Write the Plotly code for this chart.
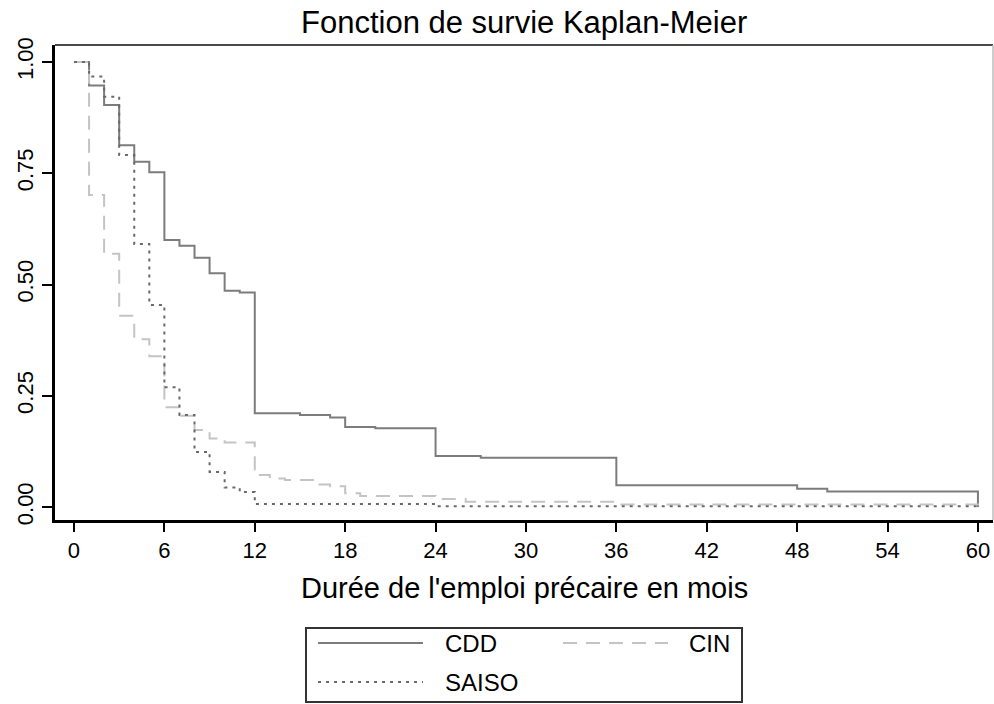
import plotly.graph_objects as go

# ---- data ----
cdd_t = [0, 1, 2, 3, 4, 5, 6, 7, 8, 9, 10, 11, 12, 15, 17, 18, 20, 24, 27, 36, 48, 50, 60]
cdd_s = [1.0, 0.947, 0.903, 0.813, 0.776, 0.752, 0.600, 0.587, 0.560, 0.525, 0.486, 0.482,
         0.211, 0.207, 0.201, 0.180, 0.177, 0.115, 0.111, 0.049, 0.041, 0.035, 0.0]

cin_t = [0, 1, 2, 3, 4, 5, 6, 7, 8, 9, 10, 12, 13, 14, 16, 17, 18, 19, 24, 26, 36, 60]
cin_s = [1.0, 0.701, 0.569, 0.430, 0.377, 0.339, 0.224, 0.205, 0.173, 0.154, 0.145, 0.072,
         0.064, 0.061, 0.051, 0.047, 0.031, 0.025, 0.018, 0.012, 0.006, 0.004]

saiso_t = [0, 1, 2, 3, 4, 5, 6, 7, 8, 9, 10, 11, 12, 24, 60]
saiso_s = [1.0, 0.967, 0.922, 0.791, 0.591, 0.454, 0.269, 0.207, 0.124, 0.079, 0.044,
           0.034, 0.007, 0.002, 0.002]

x_ticks = [0, 6, 12, 18, 24, 30, 36, 42, 48, 54, 60]
y_ticks = [0.0, 0.25, 0.5, 0.75, 1.0]
y_tick_labels = ["0.00", "0.25", "0.50", "0.75", "1.00"]

series_names = ["CDD", "CIN", "SAISO"]
title_text = "Fonction de survie Kaplan-Meier"
x_title = "Durée de l'emploi précaire en mois"

# ---- styles / layout ----
W, H = 994, 704
L, R, T, B = 55, 1, 45, 184
PW, PH = W - L - R, H - T - B
FONT = "Liberation Sans, Arial, sans-serif"

styles = {
    "CDD": dict(color="#7c7c7c", width=2, dash="solid"),
    "CIN": dict(color="#c4c4c4", width=2, dash="14px,9px"),
    "SAISO": dict(color="#6a6a6a", width=2, dash="3px,5px"),
}


def px_x(px):
    return (px - L) / PW


def px_y(py):
    return (H - B - py) / PH


fig = go.Figure()
for name, t, s in [("CDD", cdd_t, cdd_s), ("CIN", cin_t, cin_s), ("SAISO", saiso_t, saiso_s)]:
    fig.add_trace(go.Scatter(x=t, y=s, mode="lines", line_shape="hv", name=name,
                             line=styles[name], showlegend=False, cliponaxis=False))

shapes = [
    # top and right frame
    dict(type="line", xref="paper", yref="paper", x0=0, x1=1, y0=1, y1=1,
         line=dict(color="#4a4a4a", width=2)),
    dict(type="line", xref="paper", yref="paper", x0=1, x1=1, y0=0, y1=1,
         line=dict(color="#bdbdbd", width=1.5)),
    # legend box
    dict(type="rect", xref="paper", yref="paper", x0=px_x(306), x1=px_x(742),
         y0=px_y(702), y1=px_y(628), line=dict(color="#333333", width=2),
         fillcolor="white"),
]
annotations = [
    dict(text=title_text, xref="paper", yref="paper", x=0.5, y=px_y(22),
         xanchor="center", yanchor="middle", showarrow=False,
         font=dict(family=FONT, size=31, color="black")),
    dict(text=x_title, xref="paper", yref="paper", x=0.5, y=px_y(588),
         xanchor="center", yanchor="middle", showarrow=False,
         font=dict(family=FONT, size=29, color="black")),
]

legend_items = [("CDD", 318, 423, 643, 443), ("CIN", 563, 668, 643, 687), ("SAISO", 318, 423, 682, 443)]
for name, lx0, lx1, ly, tx in legend_items:
    st = styles[name]
    shapes.append(dict(type="line", xref="paper", yref="paper", x0=px_x(lx0), x1=px_x(lx1),
                       y0=px_y(ly), y1=px_y(ly),
                       line=dict(color=st["color"], width=st["width"], dash=st["dash"])))
    annotations.append(dict(text=name, xref="paper", yref="paper", x=px_x(tx), y=px_y(ly),
                            xanchor="left", yanchor="middle", showarrow=False,
                            font=dict(family=FONT, size=24, color="black")))

fig.update_layout(
    width=W, height=H, autosize=False,
    margin=dict(l=L, r=R, t=T, b=B, autoexpand=False),
    paper_bgcolor="white", plot_bgcolor="white",
    shapes=shapes, annotations=annotations,
    showlegend=False,
)
fig.update_xaxes(range=[-1.26, 61.0], tickvals=x_ticks, ticktext=[str(v) for v in x_ticks],
                 automargin=False,
                 showgrid=False, zeroline=False, showline=True, linecolor="black", linewidth=3,
                 ticks="outside", ticklen=9, tickwidth=2, tickcolor="black",
                 tickfont=dict(family=FONT, size=22, color="black"))
fig.update_yaxes(range=[-0.029, 1.038], tickvals=y_ticks, ticktext=y_tick_labels,
                 automargin=False,
                 showgrid=False, zeroline=False, showline=True, linecolor="black", linewidth=3,
                 ticks="outside", ticklen=10, tickwidth=2, tickcolor="black", tickangle=-90,
                 tickfont=dict(family=FONT, size=22, color="black"))

fig.write_html(
    "out.html",
    config={"displayModeBar": False},
    post_script="document.body.style.margin='0';document.body.style.overflow='hidden';",
)
